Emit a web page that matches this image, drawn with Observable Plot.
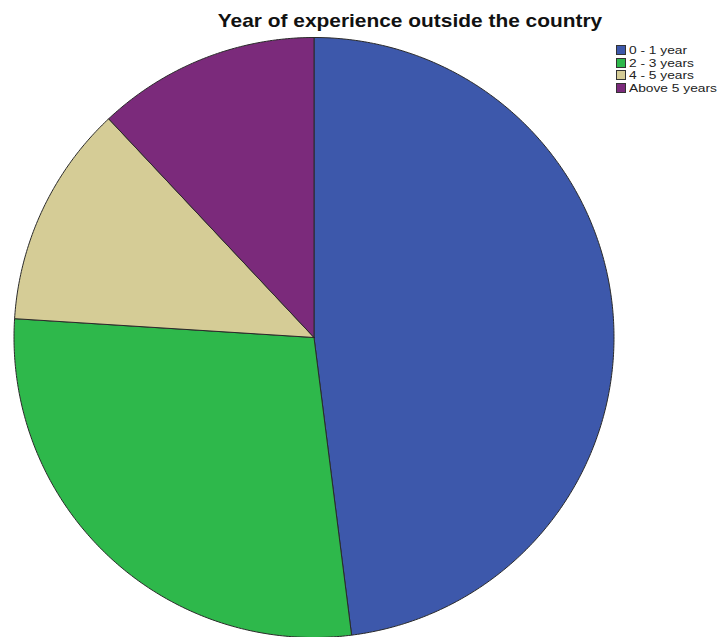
<!DOCTYPE html>
<html>
<head>
<meta charset="utf-8">
<script src="https://cdn.jsdelivr.net/npm/d3@7"></script>
<script src="https://cdn.jsdelivr.net/npm/@observablehq/plot@0.6"></script>
<style>
  html, body { margin: 0; padding: 0; background: #fff; overflow: hidden; }
  #wrap { position: relative; width: 723px; height: 637px; overflow: hidden; font-family: "Liberation Sans", Arial, sans-serif; }
  #title { position: absolute; left: 10px; width: 800px; top: 10px; text-align: center; font-weight: bold; font-size: 19px; color: #111; white-space: nowrap; transform: scaleX(1.1); transform-origin: 50% 50%; }
  #legend { position: absolute; left: 616px; top: 44px; font-size: 11px; color: #222; }
  .row { display: flex; align-items: center; height: 12.5px; white-space: nowrap; }
  .sw { width: 8px; height: 8px; border: 1px solid #333; margin-right: 3px; flex: none; }
  .lt { display: inline-block; transform: scaleX(1.25); transform-origin: 0 50%; }
</style>
</head>
<body>
<div id="wrap">
  <div id="chart"></div>
  <div id="title"></div>
  <div id="legend"></div>
</div>
<script>
const title = "Year of experience outside the country";
const categories = ["0 - 1 year", "2 - 3 years", "4 - 5 years", "Above 5 years"];
const values = [48, 28, 12, 12];
const colors = ["#3d58ab", "#2eb84b", "#d5cc96", "#7b2a7b"];

const pie = d3.pie().sort(null).value(d => d)(values);
const pts = [];
pie.forEach((s, i) => {
  const cat = categories[i];
  pts.push({cat, x: 0, y: 0});
  const n = Math.max(2, Math.ceil((s.endAngle - s.startAngle) / 0.01));
  for (let k = 0; k <= n; k++) {
    const a = s.startAngle + (s.endAngle - s.startAngle) * k / n;
    pts.push({cat, x: Math.sin(a), y: Math.cos(a)});
  }
  pts.push({cat, x: 0, y: 0});
});

const W = 723, H = 637, cx = 313.5, cy = 337, R = 300;
const chart = Plot.plot({
  width: W, height: H,
  margin: 0,
  x: {domain: [-cx / R, (W - cx) / R], axis: null},
  y: {domain: [-(H - cy) / R, cy / R], axis: null},
  color: {domain: categories, range: colors},
  marks: [
    Plot.line(pts, {x: "x", y: "y", z: "cat", fill: "cat", stroke: "#2a2a2a", strokeWidth: 1, curve: "linear"})
  ]
});
document.getElementById("chart").appendChild(chart);
document.getElementById("title").textContent = title;
const leg = document.getElementById("legend");
categories.forEach((c, i) => {
  const row = document.createElement("div");
  row.className = "row";
  const sw = document.createElement("div");
  sw.className = "sw";
  sw.style.background = colors[i];
  const t = document.createElement("span");
  t.className = "lt";
  t.textContent = c;
  row.appendChild(sw); row.appendChild(t);
  leg.appendChild(row);
});
</script>
</body>
</html>
